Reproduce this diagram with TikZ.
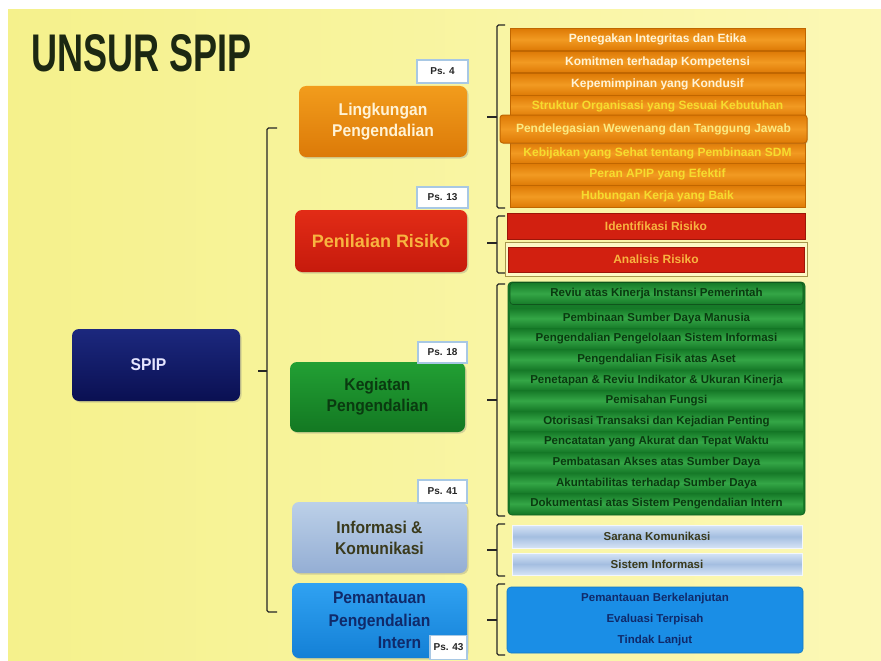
\documentclass[tikz,border=0pt]{standalone}
\usepackage{fontspec}
\setmainfont{Liberation Sans}
\newfontfamily\titlefont[FakeStretch=0.68]{Liberation Sans}
\newfontfamily\boxfont[FakeStretch=0.92]{Liberation Sans}
\usetikzlibrary{shadows}

% palette
\definecolor{bgL}{HTML}{F5F18C}
\definecolor{bgR}{HTML}{FCF8B6}
\definecolor{titleC}{HTML}{1C2812}
\definecolor{spT}{HTML}{1C287E}
\definecolor{spB}{HTML}{0A1052}
\definecolor{lkT}{HTML}{F29C1C}
\definecolor{lkB}{HTML}{DC7A08}
\definecolor{prT}{HTML}{E22C16}
\definecolor{prB}{HTML}{C61A0C}
\definecolor{kgT}{HTML}{22A034}
\definecolor{kgB}{HTML}{137822}
\definecolor{ikT}{HTML}{BCD0E8}
\definecolor{ikB}{HTML}{94AED4}
\definecolor{ppT}{HTML}{30A2F2}
\definecolor{ppB}{HTML}{1480D6}
\definecolor{oEdge}{HTML}{DE7A06}
\definecolor{oMid}{HTML}{F29A22}
\definecolor{oBd}{HTML}{C06600}
\definecolor{oWhite}{HTML}{FFF3D6}
\definecolor{oYel}{HTML}{F6DC2E}
\definecolor{rFill}{HTML}{D22010}
\definecolor{rBd}{HTML}{9C1608}
\definecolor{rTxt}{HTML}{F8B440}
\definecolor{gEdge}{HTML}{167A28}
\definecolor{gMid}{HTML}{34A646}
\definecolor{gTxt}{HTML}{0A3A10}
\definecolor{iEdge}{HTML}{D6E4F6}
\definecolor{iMid}{HTML}{A4BEE0}
\definecolor{iTxt}{HTML}{3A3A1C}
\definecolor{pFill}{HTML}{1A8EE6}
\definecolor{pTxt}{HTML}{102A6A}
\definecolor{psBd}{HTML}{A8C8E4}

\begin{document}
\begin{tikzpicture}[x=1pt,y=-1pt,
  mainbox/.style={rectangle, rounded corners=7pt, inner sep=0pt, align=center,
    font=\boxfont\bfseries\fontsize{17}{21}\selectfont,
    drop shadow={opacity=0.3, shadow xshift=1.5pt, shadow yshift=-1.5pt}},
  pslabel/.style={rectangle, fill=white, draw=psBd, line width=1.4pt, inner sep=0pt,
    font=\bfseries\fontsize{10}{12}\selectfont, text=black!85},
  orangeitem/.style={rectangle, draw=oBd, line width=0.8pt, inner sep=0pt,
    minimum width=295pt, minimum height=21.5pt,
    top color=oEdge, bottom color=oEdge, middle color=oMid,
    font=\bfseries\fontsize{12}{14}\selectfont},
  reditem/.style={rectangle, draw=rBd, line width=0.8pt, fill=rFill, inner sep=0pt,
    text=rTxt, font=\bfseries\fontsize{12}{14}\selectfont},
  greenitem/.style={rectangle, inner sep=0pt, minimum width=293pt, minimum height=20pt,
    top color=gEdge, bottom color=gEdge, middle color=gMid, text=gTxt,
    font=\bfseries\fontsize{11.5}{13}\selectfont},
  infoitem/.style={rectangle, draw=white!70!iEdge, line width=1pt, inner sep=0pt,
    minimum width=290pt, top color=iEdge, bottom color=iEdge, middle color=iMid,
    text=iTxt, font=\bfseries\fontsize{11.5}{13}\selectfont},
  brk/.style={draw=black!85, line width=1.1pt, rounded corners=1.5pt}
]
\useasboundingbox (0,0) rectangle (881,661);
\fill[white] (0,0) rectangle (881,661);
\shade[left color=bgL, right color=bgR] (8,10) rectangle (881,661);

% heading
\node[text=titleC, font=\titlefont\bfseries\fontsize{53}{60}\selectfont] (title) at (141.5,53) {UNSUR SPIP};

% root
\node[mainbox, top color=spT, bottom color=spB, text=white!90!blue,
  minimum width=168pt, minimum height=72pt] (spip) at (156,365) {SPIP\hspace*{15pt}};

% the five elements
\node[mainbox, top color=lkT, bottom color=lkB, text=oWhite,
  minimum width=168pt, minimum height=71pt] (lk) at (383,121.5) {Lingkungan\\Pengendalian};
\node[mainbox, top color=prT, bottom color=prB, text=rTxt,
  font=\bfseries\fontsize{18}{21}\selectfont,
  minimum width=172pt, minimum height=62pt] (pr) at (381,241) {Penilaian Risiko};
\node[mainbox, top color=kgT, bottom color=kgB, text=gTxt,
  minimum width=175pt, minimum height=70pt] (kg) at (377.5,397) {Kegiatan\\Pengendalian};
\node[mainbox, top color=ikT, bottom color=ikB, text=iTxt,
  minimum width=175pt, minimum height=71pt] (ik) at (379.5,537.5) {Informasi \&\\Komunikasi};
\node[mainbox, top color=ppT, bottom color=ppB, text=pTxt,
  font=\boxfont\bfseries\fontsize{17}{22.5}\selectfont,
  minimum width=175pt, minimum height=75pt] (pp) at (379.5,620.5) {Pemantauan\\Pengendalian\\\hspace*{40pt}Intern};

% article references
\node[pslabel, minimum width=51pt, minimum height=23pt] (ps4)  at (442.5,71.5)  {Ps. 4};
\node[pslabel, minimum width=51pt, minimum height=21pt] (ps13) at (442.5,197.5) {Ps. 13};
\node[pslabel, minimum width=49pt, minimum height=21pt] (ps18) at (442.5,352.5) {Ps. 18};
\node[pslabel, minimum width=49pt, minimum height=23pt] (ps41) at (442.5,491.5) {Ps. 41};
\node[pslabel, minimum width=37pt, minimum height=24pt] (ps43) at (448.5,647.5) {Ps. 43};

% brace grouping the five elements
\coordinate (lbT) at (267,128);
\coordinate (lbB) at (267,612);
\coordinate (lbM) at (267,371);
\draw[brk] ([xshift=10pt]lbT) -- (lbT) -- (lbB) -- ([xshift=10pt]lbB);
\draw[brk] (lbM) -- ([xshift=-9pt]lbM);

% braces on the right
\foreach \nm/\yt/\yb/\ym in {ob/25/208/117, rb/216/273/243, gb/284/516/400, ib/524/576/550, pb/584/655/620}{
  \coordinate (\nm T) at (497,\yt);
  \coordinate (\nm B) at (497,\yb);
  \coordinate (\nm M) at (497,\ym);
  \draw[brk] ([xshift=8pt]\nm T) -- (\nm T) -- (\nm B) -- ([xshift=8pt]\nm B);
  \draw[brk] (\nm M) -- ([xshift=-10pt]\nm M);
}

% Lingkungan Pengendalian sub-elements
\node[orangeitem, text=oWhite] (o1) at (657.5,39.5)  {Penegakan Integritas dan Etika};
\node[orangeitem, text=oWhite] (o2) at (657.5,62)    {Komitmen terhadap Kompetensi};
\node[orangeitem, text=oWhite] (o3) at (657.5,84.5)  {Kepemimpinan yang Kondusif};
\node[orangeitem, text=oYel]   (o4) at (657.5,106)   {Struktur Organisasi yang Sesuai Kebutuhan};
\node[orangeitem, text=oYel]   (o6) at (657.5,153)   {Kebijakan yang Sehat tentang Pembinaan SDM};
\node[orangeitem, text=oYel]   (o7) at (657.5,174.5) {Peran APIP yang Efektif};
\node[orangeitem, text=oYel]   (o8) at (657.5,196.5) {Hubungan Kerja yang Baik};
\node[orangeitem, text=oYel!60!white, rounded corners=3pt, minimum width=307pt, minimum height=28pt,
  line width=1pt, drop shadow={opacity=0.25, shadow xshift=1pt, shadow yshift=-1pt}]
  (o5) at (653.5,129) {Pendelegasian Wewenang dan Tanggung Jawab};

% Penilaian Risiko sub-elements
\node[reditem, minimum width=298pt, minimum height=26pt] (r1) at (656,226) {Identifikasi Risiko};
\node[rectangle, draw=black!45!yellow!70!brown, line width=0.9pt, fill=bgR!80!white,
  minimum width=302pt, minimum height=34pt, inner sep=0pt] (r2f) at (656,259) {};
\node[reditem, minimum width=296pt, minimum height=25pt] (r2) at (656,259.5) {Analisis Risiko};

% Kegiatan Pengendalian sub-elements
\node[rectangle, rounded corners=4pt, fill=gEdge, draw=gEdge!80!black, line width=0.8pt,
  minimum width=297pt, minimum height=233pt, inner sep=0pt] (gblk) at (656.5,398.5) {};
\node[greenitem, rounded corners=3pt, minimum height=22pt, draw=gEdge!70!black, line width=0.6pt] (g1) at (656.5,293.5) {Reviu atas Kinerja Instansi Pemerintah};
\foreach \i/\yy/\tx in {
  2/318.3/Pembinaan Sumber Daya Manusia,
  3/338.9/Pengendalian Pengelolaan Sistem  Informasi,
  4/359.5/Pengendalian Fisik atas Aset,
  5/380.1/Penetapan \& Reviu Indikator \& Ukuran Kinerja,
  6/400.7/Pemisahan Fungsi,
  7/421.3/Otorisasi Transaksi dan Kejadian Penting,
  8/441.9/Pencatatan yang Akurat dan Tepat Waktu,
  9/462.5/Pembatasan Akses atas Sumber Daya,
  10/483.1/Akuntabilitas terhadap Sumber Daya,
  11/503.7/Dokumentasi atas Sistem Pengendalian Intern}{
  \node[greenitem] (g\i) at (656.5,\yy) {\tx};
}

% Informasi & Komunikasi sub-elements
\node[infoitem, minimum height=23pt] (i1) at (657,536.5) {Sarana Komunikasi};
\node[infoitem, minimum height=22pt] (i2) at (657,564) {Sistem Informasi};

% Pemantauan sub-elements
\node[rectangle, rounded corners=4pt, fill=pFill, draw=pFill!85!black, line width=0.6pt,
  minimum width=296pt, minimum height=66pt, inner sep=0pt, align=center, text=pTxt,
  font=\bfseries\fontsize{11.5}{21}\selectfont] (pl) at (655,620)
  {Pemantauan  Berkelanjutan\\Evaluasi Terpisah\\Tindak Lanjut};
\end{tikzpicture}
\end{document}
